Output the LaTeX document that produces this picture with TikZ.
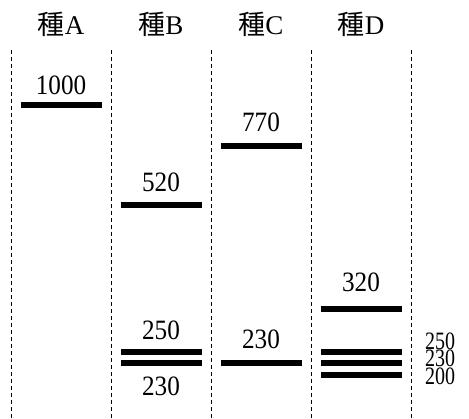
\documentclass[tikz,border=0pt]{standalone}
\usepackage{fontspec}
\setmainfont{Liberation Serif}
\newfontfamily\jpfont{Noto Sans CJK JP}
\usetikzlibrary{positioning}
\tikzstyle{head} = [inner sep=0pt, font=\fontsize{27}{28}\selectfont]
\tikzstyle{lane} = [line width=0.8pt, dash pattern=on 4pt off 3pt]
\tikzstyle{band} = [rectangle, fill=black, inner sep=0pt, minimum width=81pt, minimum height=6pt]
\tikzstyle{num} = [inner sep=0pt, font=\fontsize{28}{29}\selectfont, xscale=0.9, transform shape]
\tikzstyle{side} = [inner sep=0pt, align=center, font=\fontsize{25}{17.5}\selectfont, xscale=0.8, transform shape]

\begin{document}
\begin{tikzpicture}[x=1pt, y=-1pt]
					\useasboundingbox (0,0) rectangle (469,419);
					\node[head] (hA) at (61,24) {{\jpfont 種}A};
					\node[head] (hB) at (161,24) {{\jpfont 種}B};
					\node[head] (hC) at (261,24) {{\jpfont 種}C};
					\node[head] (hD) at (361,24) {{\jpfont 種}D};
					\foreach \x in {11,111,211,311,411}
						\draw[lane] (\x,50) -- (\x,419);
					\node[band] (a1000) at (61,105) {};
					\node[num] (la1000) at (61,85.5) {1000};
					\node[band] (b520) at (161.5,205) {};
					\node[num] (lb520) at (161,182.5) {520};
					\node[band] (b250) at (161.5,352) {};
					\node[num] (lb250) at (161,330) {250};
					\node[band] (b230) at (161.5,363.5) {};
					\node[num] (lb230) at (161,386) {230};
					\node[band] (c770) at (261.5,146.5) {};
					\node[num] (lc770) at (261,122.5) {770};
					\node[band] (c230) at (261.5,363.5) {};
					\node[num] (lc230) at (261,339.5) {230};
					\node[band] (d320) at (361.5,309) {};
					\node[num] (ld320) at (361,282.5) {320};
					\node[band] (d250) at (361.5,352) {};
					\node[band] (d230) at (361.5,363.5) {};
					\node[band] (d200) at (361.5,375) {};
					\node[side] (lside) at (440,358.5) {250\\230\\200};
					\end{tikzpicture}
\end{document}
